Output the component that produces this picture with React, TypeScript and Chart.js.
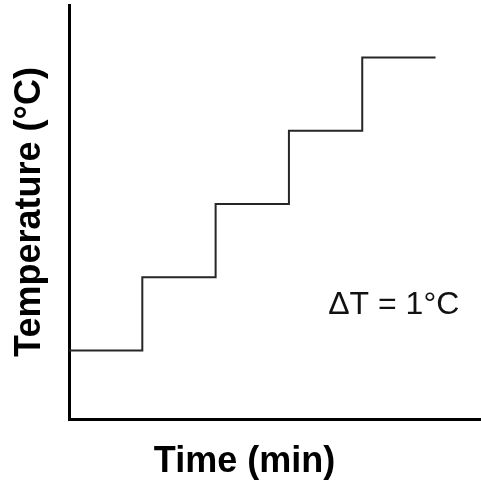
import React, { useEffect, useRef } from "react";
import { Chart, registerables } from "chart.js";

Chart.register(...registerables);

// Data
const times: number[] = [0, 1, 2, 3, 4, 5];
const temperatures: number[] = [20, 21, 22, 23, 24, 24];
const xTitle = "Time (min)";
const yTitle = "Temperature (°C)";
const annotationText = "ΔT = 1°C";
const annotationAt = { x: 4.43, y: 20.5 };

const annotationPlugin = {
  id: "deltaLabel",
  afterDraw(chart: any) {
    const { ctx, scales } = chart;
    const px = scales.x.getPixelForValue(annotationAt.x);
    const py = scales.y.getPixelForValue(annotationAt.y);
    ctx.save();
    ctx.font = "32px 'Liberation Sans', Arial, sans-serif";
    ctx.fillStyle = "#111";
    ctx.textAlign = "center";
    ctx.textBaseline = "alphabetic";
    ctx.fillText(annotationText, px, py);
    ctx.restore();
  },
};

export default function App() {
  const ref = useRef<HTMLCanvasElement | null>(null);

  useEffect(() => {
    if (!ref.current) return;
    const chart = new Chart(ref.current, {
      type: "line",
      data: {
        datasets: [
          {
            data: times.map((t, i) => ({ x: t, y: temperatures[i] })),
            stepped: "before",
            borderColor: "#262626",
            borderWidth: 2,
            pointRadius: 0,
            fill: false,
          },
        ],
      },
      options: {
        responsive: false,
        animation: false,
        events: [],
        layout: { padding: { left: 8, top: 5, right: 0, bottom: 0 } },
        plugins: {
          legend: { display: false },
          tooltip: { enabled: false },
          title: {
            display: true,
            position: "bottom",
            text: xTitle,
            color: "#000",
            font: { family: "'Liberation Sans', Arial, sans-serif", size: 36, weight: "bold", lineHeight: 1.2 },
            padding: { top: 21, bottom: 1.8 },
          },
        },
        scales: {
          x: {
            type: "linear",
            min: 0,
            max: 5.62,
            grid: { display: false, drawTicks: false },
            ticks: { display: false },
            border: { display: true, color: "#000", width: 3 },
          },
          y: {
            type: "linear",
            min: 19.067,
            max: 24.715,
            grid: { display: false, drawTicks: false },
            ticks: { display: false },
            border: { display: true, color: "#000", width: 3 },
            title: {
              display: true,
              text: yTitle,
              color: "#000",
              font: { family: "'Liberation Sans', Arial, sans-serif", size: 36, weight: "bold", lineHeight: 1.2 },
              padding: { top: 0, bottom: 17.8 },
            },
          },
        },
      },
      plugins: [annotationPlugin],
    });
    return () => chart.destroy();
  }, []);

  return (
    <div style={{ position: "absolute", left: 0, top: 0, width: 481, height: 485, background: "#fff" }}>
      <canvas ref={ref} width={481} height={485} style={{ display: "block" }} />
    </div>
  );
}
